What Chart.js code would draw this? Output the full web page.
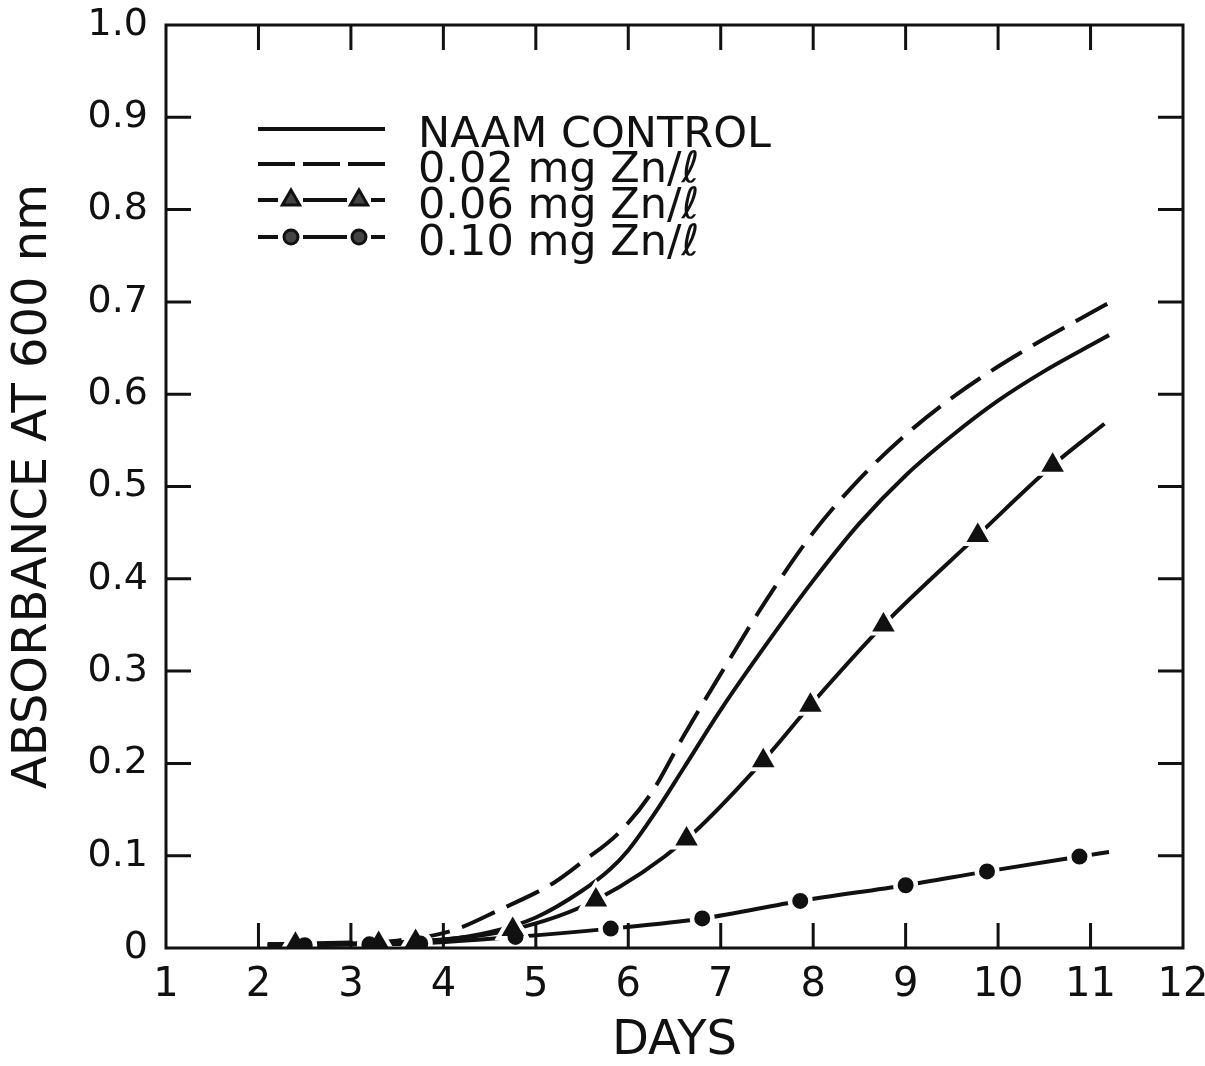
<!DOCTYPE html>
<html>
<head>
<meta charset="utf-8">
<script src="https://cdn.jsdelivr.net/npm/chart.js@4.4.1/dist/chart.umd.min.js"></script>
<style>
  html, body { margin: 0; padding: 0; background: #fff; }
  #wrap { width: 1205px; height: 1066px; }
</style>
</head>
<body>
<div id="wrap"><canvas id="chart"></canvas></div>
<script>
// ── 데이터 ─────────────────────────────────────────────
const seriesNames = ['NAAM CONTROL', '0.02 mg Zn/ℓ', '0.06 mg Zn/ℓ', '0.10 mg Zn/ℓ'];

const controlDays = [2.1, 3.0, 4.0, 4.5, 5.0, 5.5, 5.8, 6.0, 6.3, 6.6, 7.0, 7.5, 8.0, 8.5, 9.0, 9.5, 10.0, 10.5, 11.0, 11.2];
const controlAbs  = [0.004, 0.005, 0.009, 0.017, 0.033, 0.062, 0.085, 0.106, 0.148, 0.195, 0.258, 0.330, 0.398, 0.460, 0.512, 0.555, 0.593, 0.625, 0.653, 0.664];

const zn02Days = [2.1, 3.0, 3.5, 4.1, 4.6, 5.2, 5.5, 5.9, 6.25, 6.6, 7.0, 7.5, 8.0, 8.5, 9.0, 9.5, 10.0, 10.5, 11.0, 11.22];
const zn02Abs  = [0.004, 0.006, 0.008, 0.019, 0.041, 0.071, 0.093, 0.125, 0.168, 0.230, 0.297, 0.378, 0.450, 0.508, 0.556, 0.596, 0.630, 0.660, 0.688, 0.700];

// 0.06 : 삼각형 측정점 + 선 시작/끝
const zn06MarkDays = [2.4, 3.3, 3.7, 4.75, 5.65, 6.63, 7.46, 7.97, 8.76, 9.78, 10.59];
const zn06MarkAbs  = [0.004, 0.005, 0.007, 0.020, 0.052, 0.118, 0.203, 0.263, 0.350, 0.447, 0.523];
const zn06LineDays = [2.1, ...zn06MarkDays, 11.15];
const zn06LineAbs  = [0.003, ...zn06MarkAbs, 0.568];

// 0.10 : 원 측정점 + 선 시작/끝
const zn10MarkDays = [2.5, 3.2, 3.75, 4.78, 5.81, 6.8, 7.86, 9.0, 9.88, 10.88];
const zn10MarkAbs  = [0.003, 0.004, 0.005, 0.012, 0.021, 0.032, 0.051, 0.068, 0.083, 0.099];
const zn10LineDays = [2.1, ...zn10MarkDays, 11.2];
const zn10LineAbs  = [0.002, ...zn10MarkAbs, 0.104];

const dayTicks = [1, 2, 3, 4, 5, 6, 7, 8, 9, 10, 11, 12];
const absTicks = [0, 0.1, 0.2, 0.3, 0.4, 0.5, 0.6, 0.7, 0.8, 0.9, 1.0];

// ── 유틸 ───────────────────────────────────────────────
const INK = '#111';
const FONT = '"DejaVu Sans", "Liberation Sans", sans-serif';
const pts = (xs, ys) => xs.map((x, i) => ({ x, y: ys[i] }));

function drawMark(ctx, style, r, x, y, fill, border, bw) {
  ctx.save();
  ctx.fillStyle = fill;
  ctx.strokeStyle = border;
  ctx.lineWidth = bw;
  Chart.helpers.drawPoint(ctx, { pointStyle: style, radius: r, rotation: 0, borderWidth: bw }, x, y);
  ctx.restore();
}

// 테두리 + 안쪽 눈금
const framePlugin = {
  id: 'frame',
  afterDatasetsDraw(chart) {
    const { ctx, chartArea: a, scales: { x, y } } = chart;
    const TL = 25;
    ctx.save();
    ctx.strokeStyle = INK;
    ctx.lineWidth = 3;
    ctx.lineCap = 'butt';
    ctx.strokeRect(a.left, a.top, a.right - a.left, a.bottom - a.top);
    ctx.beginPath();
    dayTicks.slice(1, -1).forEach(d => {
      const px = x.getPixelForValue(d);
      ctx.moveTo(px, a.top); ctx.lineTo(px, a.top + TL);
      ctx.moveTo(px, a.bottom); ctx.lineTo(px, a.bottom - TL);
    });
    absTicks.slice(1, -1).forEach(v => {
      const py = y.getPixelForValue(v);
      ctx.moveTo(a.left, py); ctx.lineTo(a.left + TL, py);
      ctx.moveTo(a.right, py); ctx.lineTo(a.right - TL, py);
    });
    ctx.stroke();
    ctx.restore();
  }
};

// 범례 (선 모양을 직접 그림)
const legendPlugin = {
  id: 'paperLegend',
  afterDraw(chart) {
    const ctx = chart.ctx;
    const x0 = 258, x1 = 385, tx = 418;
    const rowY = [129, 164, 200, 237];
    const baseY = [147, 182, 218, 255];
    ctx.save();
    ctx.strokeStyle = INK;
    ctx.lineWidth = 4;
    ctx.lineCap = 'butt';

    ctx.beginPath(); ctx.moveTo(x0, rowY[0]); ctx.lineTo(x1, rowY[0]); ctx.stroke();

    ctx.setLineDash([37, 8]);
    ctx.beginPath(); ctx.moveTo(x0, rowY[1]); ctx.lineTo(x1, rowY[1]); ctx.stroke();
    ctx.setLineDash([]);

    [[2, 'triangle', 10], [3, 'circle', 7]].forEach(([row, style, r]) => {
      const yy = rowY[row];
      ctx.beginPath();
      ctx.moveTo(x0, yy); ctx.lineTo(278, yy);
      ctx.moveTo(303, yy); ctx.lineTo(347, yy);
      ctx.moveTo(371, yy); ctx.lineTo(x1, yy);
      ctx.stroke();
      drawMark(ctx, style, r, 291, yy, '#444', INK, 3);
      drawMark(ctx, style, r, 359, yy, '#444', INK, 3);
    });

    ctx.fillStyle = INK;
    ctx.font = '43px ' + FONT;
    ctx.textBaseline = 'alphabetic';
    seriesNames.forEach((s, i) => ctx.fillText(s, tx, baseY[i]));
    ctx.restore();
  }
};

const lineBase = {
  borderColor: INK, borderWidth: 4, pointRadius: 0, fill: false,
  cubicInterpolationMode: 'monotone', borderCapStyle: 'butt'
};

new Chart(document.getElementById('chart'), {
  type: 'line',
  data: {
    datasets: [
      { ...lineBase, label: seriesNames[0], data: pts(controlDays, controlAbs), order: 6 },
      { ...lineBase, label: seriesNames[1], data: pts(zn02Days, zn02Abs), borderDash: [36, 13], order: 5 },
      { ...lineBase, label: seriesNames[2], data: pts(zn06LineDays, zn06LineAbs), order: 4 },
      { ...lineBase, label: seriesNames[3], data: pts(zn10LineDays, zn10LineAbs), order: 4 },
      // 측정점 주변 흰 여백
      { label: 'halo06', data: pts(zn06MarkDays, zn06MarkAbs), showLine: false, pointStyle: 'triangle',
        pointRadius: 12, pointBackgroundColor: '#fff', pointBorderColor: '#fff', pointBorderWidth: 9, order: 3 },
      { label: 'halo10', data: pts(zn10MarkDays, zn10MarkAbs), showLine: false, pointStyle: 'circle',
        pointRadius: 8, pointBackgroundColor: '#fff', pointBorderColor: '#fff', pointBorderWidth: 9, order: 3 },
      // 측정점
      { label: 'mark06', data: pts(zn06MarkDays, zn06MarkAbs), showLine: false, pointStyle: 'triangle',
        pointRadius: 11, pointBackgroundColor: INK, pointBorderColor: INK, pointBorderWidth: 2, order: 1 },
      { label: 'mark10', data: pts(zn10MarkDays, zn10MarkAbs), showLine: false, pointStyle: 'circle',
        pointRadius: 7, pointBackgroundColor: INK, pointBorderColor: INK, pointBorderWidth: 2, order: 1 }
    ]
  },
  options: {
    responsive: true,
    maintainAspectRatio: false,
    animation: false,
    devicePixelRatio: 1,
    layout: { padding: { top: 25, right: 22, left: 0, bottom: 0 } },
    plugins: { legend: { display: false }, tooltip: { enabled: false } },
    scales: {
      x: {
        type: 'linear', min: 1, max: 12,
        afterFit(s) { s.height = 118; s.paddingLeft = 0; s.paddingRight = 0; },
        afterBuildTicks(s) { s.ticks = dayTicks.map(v => ({ value: v })); },
        ticks: { color: INK, font: { family: FONT, size: 40 }, padding: 14, maxRotation: 0, autoSkip: false },
        grid: { display: false, drawTicks: false },
        border: { display: false },
        title: { display: true, text: 'DAYS', color: INK, font: { family: FONT, size: 48, lineHeight: 1 }, padding: 0 }
      },
      y: {
        min: 0, max: 1,
        afterFit(s) { s.width = 166; s.paddingTop = 0; s.paddingBottom = 0; },
        afterBuildTicks(s) { s.ticks = absTicks.map(v => ({ value: v })); },
        ticks: {
          color: INK, font: { family: FONT, size: 38 }, padding: 18, autoSkip: false,
          callback: v => v === 0 ? '0' : v.toFixed(1)
        },
        grid: { display: false, drawTicks: false },
        border: { display: false },
        title: { display: true, text: 'ABSORBANCE AT 600 nm', color: INK,
          font: { family: FONT, size: 48, lineHeight: 1 }, padding: { top: 10, bottom: 0 } }
      }
    }
  },
  plugins: [framePlugin, legendPlugin]
});
</script>
</body>
</html>
